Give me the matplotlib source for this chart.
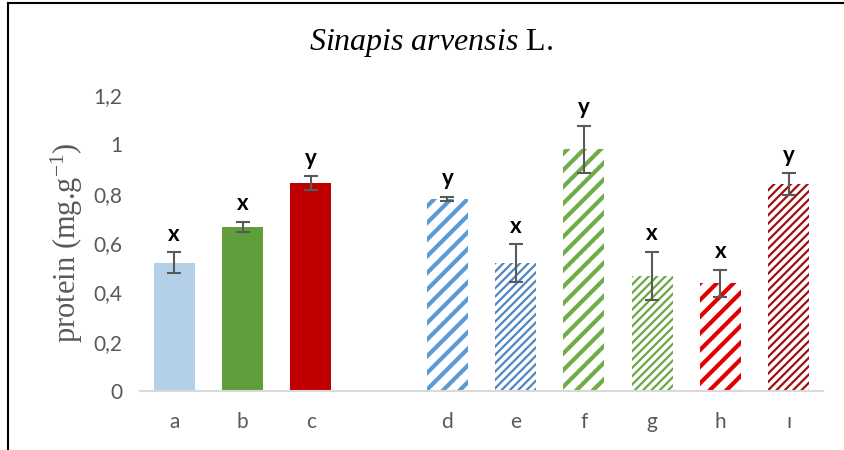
import matplotlib
matplotlib.use("Agg")
import matplotlib.pyplot as plt
from matplotlib.lines import Line2D

# data
categories = ["a", "b", "c", "", "d", "e", "f", "g", "h", "ı"]
values = [0.52, 0.665, 0.843, None, 0.78, 0.518, 0.98, 0.467, 0.437, 0.839]
errors = [0.043, 0.022, 0.027, None, 0.008, 0.076, 0.095, 0.097, 0.054, 0.043]
letters = ["x", "x", "y", "", "y", "x", "y", "x", "x", "y"]

colors = ["#b4cfe8", "#5f9e3a", "#c00000", None,
          "#5b9bd5", "#4f86c0", "#70ad47", "#6aa844", "#e00000", "#a01010"]
hatches = [None, None, None, None, "//", "////", "//", "////", "//", "////"]
hatch_lw = [0, 0, 0, 0, 3.0, 1.6, 3.0, 1.6, 3.0, 1.6]

plt.rcParams["mathtext.fontset"] = "custom"
plt.rcParams["mathtext.rm"] = "Liberation Serif"
plt.rcParams["mathtext.it"] = "Liberation Serif:italic"

fig = plt.figure(figsize=(8.44, 4.5), dpi=100)
ax = fig.add_axes([0.166, 0.131, 0.809, 0.658])

x = list(range(len(categories)))
for i in x:
    if values[i] is None:
        continue
    if hatches[i] is None:
        ax.bar(i, values[i], width=0.6, color=colors[i], linewidth=0, zorder=2)
    else:
        plt.rcParams["hatch.linewidth"] = hatch_lw[i]
        ax.bar(i, values[i], width=0.6, facecolor="white", edgecolor=colors[i],
               hatch=hatches[i], linewidth=0, zorder=2)
    ax.errorbar(i, values[i], yerr=errors[i], fmt="none", ecolor="#595959",
                elinewidth=1.5, capsize=5, capthick=1.5, zorder=3)
    ax.text(i, values[i] + errors[i] + 0.03, letters[i], ha="center", va="bottom",
            fontsize=16, family="Lato", weight="bold", color="black")

ax.set_xlim(-0.5, len(categories) - 0.5)
ax.set_ylim(0, 1.2)
ax.set_xticks(x)
ax.set_xticklabels(categories)
yt = [0, 0.2, 0.4, 0.6, 0.8, 1.0, 1.2]
ax.set_yticks(yt)
ax.set_yticklabels(["0", "0,2", "0,4", "0,6", "0,8", "1", "1,2"])
ax.tick_params(length=0, labelsize=15, labelcolor="#595959", pad=13)
ax.tick_params(axis="x", pad=15)
for lab in ax.get_xticklabels() + ax.get_yticklabels():
    lab.set_family("Lato")
for s in ["top", "right", "left"]:
    ax.spines[s].set_visible(False)
ax.spines["bottom"].set_color("#d9d9d9")
ax.spines["bottom"].set_linewidth(1.5)

ax.set_ylabel("protein (mg.g$^{-1}$)", family="Liberation Serif", fontsize=22,
              color="#595959", labelpad=6)

fig.text(0.511, 0.905, r"$\mathit{Sinapis\ arvensis}$ L.", ha="center", va="center",
         fontsize=23, family="Liberation Serif", color="black")

# frame lines of the surrounding box
fig.add_artist(Line2D([0.0095, 0.0095], [0.0, 0.993], transform=fig.transFigure,
                      color="black", linewidth=1.5))
fig.add_artist(Line2D([0.0095, 1.0], [0.993, 0.993], transform=fig.transFigure,
                      color="black", linewidth=1.5))

fig.savefig("out.png", dpi=100)
